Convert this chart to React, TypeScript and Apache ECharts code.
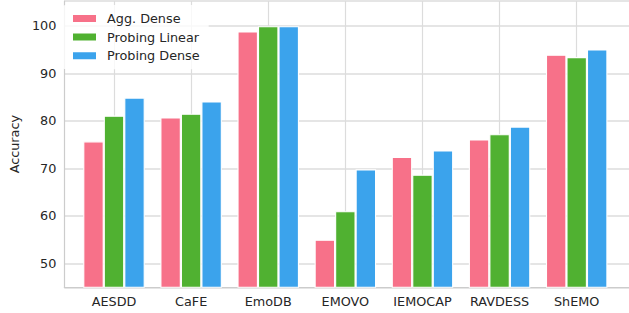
import React, { useEffect, useRef } from "react";
import * as echarts from "echarts";

const categories = ["AESDD", "CaFE", "EmoDB", "EMOVO", "IEMOCAP", "RAVDESS", "ShEMO"];
const aggDense = [75.7, 80.7, 98.8, 55.0, 72.4, 76.1, 93.9];
const probingLinear = [81.1, 81.5, 99.9, 61.0, 68.7, 77.2, 93.4];
const probingDense = [84.9, 84.1, 99.9, 69.8, 73.8, 78.8, 95.0];
const yTicks = [50, 60, 70, 80, 90, 100];

const FONT = "DejaVu Sans";
const TEXT = "#262626";
const GRID = "#dcdcdc";
const SPINE = "#cccccc";
const Y_MIN = 45;
const Y_MAX = 105.2;

export default function App() {
  const ref = useRef<HTMLDivElement>(null);
  useEffect(() => {
    if (!ref.current) return;
    const chart = echarts.init(ref.current, undefined, { renderer: "svg" });
    const mkSeries = (name: string, data: number[], color: string) => ({
      name,
      type: "bar",
      xAxisIndex: 1,
      yAxisIndex: 1,
      data,
      barWidth: 20.5,
      barGap: "0%",
      itemStyle: { color, borderColor: "#ffffff", borderWidth: 1.1 },
    });
    chart.setOption({
      animation: false,
      backgroundColor: "#ffffff",
      textStyle: { fontFamily: FONT },
      grid: [
        { left: 58, right: 0, top: 1, bottom: 25.7, containLabel: false },
        { left: 114, right: 52.3, top: 1, bottom: 25.7, containLabel: false },
      ],
      legend: {
        orient: "vertical",
        left: 62,
        top: 5,
        padding: [6, 9, 6, 9],
        itemWidth: 25,
        itemHeight: 9,
        itemGap: 3.6,
        backgroundColor: "rgba(255,255,255,0.8)",
        borderRadius: 4,
        icon: "rect",
        textStyle: {
          fontFamily: FONT,
          fontSize: 12.8,
          color: TEXT,
          lineHeight: 15,
          padding: [0, 0, 0, 5],
        },
        data: ["Agg. Dense", "Probing Linear", "Probing Dense"],
      },
      xAxis: [
        {
          type: "value",
          gridIndex: 0,
          min: 0,
          max: 1,
          axisLine: { show: true, lineStyle: { color: SPINE, width: 1.2 } },
          axisTick: { show: false },
          axisLabel: { show: false },
          splitLine: { show: false },
        },
        {
          type: "category",
          gridIndex: 1,
          data: categories,
          boundaryGap: false,
          axisLine: { show: false },
          axisTick: { show: false },
          axisLabel: {
            show: true,
            fontFamily: FONT,
            fontSize: 12.8,
            color: TEXT,
            margin: 8,
            interval: 0,
          },
          splitLine: { show: true, interval: 0, lineStyle: { color: GRID, width: 1.2 } },
        },
      ],
      yAxis: [
        {
          type: "value",
          gridIndex: 0,
          min: Y_MIN,
          max: Y_MAX,
          name: "Accuracy",
          nameLocation: "middle",
          nameGap: 42,
          nameTextStyle: { fontFamily: FONT, fontSize: 12.8, color: TEXT },
          axisLine: { show: true, lineStyle: { color: SPINE, width: 1.2 } },
          axisTick: { show: false },
          axisLabel: {
            fontFamily: FONT,
            fontSize: 12.8,
            color: TEXT,
            margin: 8,
            customValues: yTicks,
          },
          splitLine: { show: true, lineStyle: { color: GRID, width: 1.5 } },
          customValues: yTicks,
        },
        {
          type: "value",
          gridIndex: 1,
          min: Y_MIN,
          max: Y_MAX,
          show: false,
          splitLine: { show: false },
        },
      ],
      series: [
        mkSeries("Agg. Dense", aggDense, "#f77189"),
        mkSeries("Probing Linear", probingLinear, "#50b131"),
        mkSeries("Probing Dense", probingDense, "#3ba3ec"),
      ],
    });
    return () => chart.dispose();
  }, []);
  return <div ref={ref} style={{ width: 629, height: 313, position: "absolute", left: 0, top: 0 }} />;
}
